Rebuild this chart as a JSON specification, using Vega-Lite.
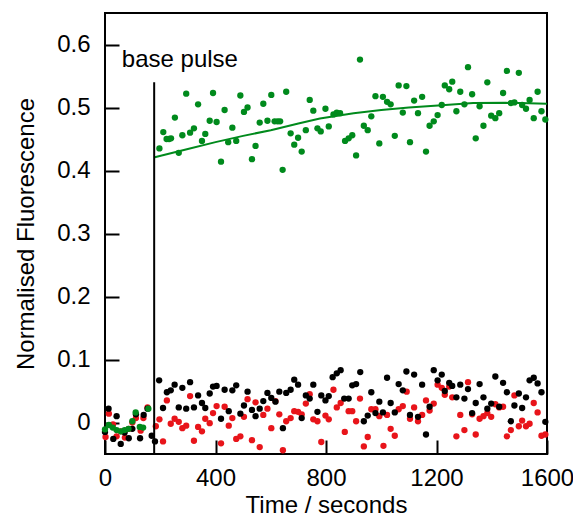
{
  "$schema": "https://vega.github.io/schema/vega-lite/v6.json",
  "width": 442,
  "height": 441,
  "autosize": {"type": "none"},
  "padding": {"left": 105, "top": 13, "right": 26, "bottom": 65},
  "background": "white",
  "config": {
    "view": {"stroke": "black", "strokeWidth": 2},
    "font": "Liberation Sans",
    "axis": {
      "domain": false,
      "grid": false,
      "ticks": true,
      "tickSize": -14,
      "tickWidth": 2,
      "tickColor": "black",
      "labelFontSize": 24,
      "labelColor": "black",
      "titleFontSize": 24,
      "titleFontWeight": "normal",
      "titleColor": "black",
      "labelFlush": false,
      "labelOverlap": false
    }
  },
  "datasets": {
    "pts": [
      {"t": 2, "v": -0.023, "s": "red"}, {"t": 14, "v": 0.014, "s": "red"}, {"t": 29, "v": -0.003, "s": "red"}, {"t": 42, "v": -0.022, "s": "red"}, {"t": 57, "v": -0.014, "s": "red"}, {"t": 72, "v": -0.024, "s": "red"}, {"t": 86, "v": -0.010, "s": "red"}, {"t": 99, "v": 0.000, "s": "red"}, {"t": 112, "v": 0.007, "s": "red"}, {"t": 129, "v": -0.013, "s": "red"}, {"t": 139, "v": 0.007, "s": "red"}, {"t": 154, "v": 0.024, "s": "red"},
      {"t": 184, "v": -0.006, "s": "red"}, {"t": 197, "v": 0.005, "s": "red"}, {"t": 210, "v": -0.030, "s": "red"}, {"t": 224, "v": 0.035, "s": "red"}, {"t": 238, "v": -0.002, "s": "red"}, {"t": 252, "v": 0.006, "s": "red"}, {"t": 267, "v": 0.001, "s": "red"}, {"t": 280, "v": -0.009, "s": "red"}, {"t": 294, "v": -0.005, "s": "red"}, {"t": 308, "v": 0.042, "s": "red"}, {"t": 322, "v": -0.029, "s": "red"}, {"t": 337, "v": -0.007, "s": "red"}, {"t": 351, "v": -0.014, "s": "red"}, {"t": 363, "v": 0.006, "s": "red"}, {"t": 379, "v": -0.001, "s": "red"}, {"t": 391, "v": 0.015, "s": "red"}, {"t": 404, "v": 0.026, "s": "red"}, {"t": 420, "v": -0.033, "s": "red"}, {"t": 433, "v": 0.025, "s": "red"}, {"t": 448, "v": -0.005, "s": "red"}, {"t": 461, "v": 0.007, "s": "red"}, {"t": 475, "v": -0.026, "s": "red"}, {"t": 490, "v": -0.022, "s": "red"}, {"t": 503, "v": 0.009, "s": "red"}, {"t": 516, "v": 0.037, "s": "red"}, {"t": 532, "v": -0.028, "s": "red"}, {"t": 545, "v": 0.032, "s": "red"}, {"t": 560, "v": -0.039, "s": "red"}, {"t": 573, "v": 0.012, "s": "red"}, {"t": 588, "v": 0.022, "s": "red"}, {"t": 602, "v": -0.009, "s": "red"}, {"t": 617, "v": 0.034, "s": "red"}, {"t": 631, "v": 0.013, "s": "red"}, {"t": 644, "v": -0.044, "s": "red"}, {"t": 656, "v": 0.002, "s": "red"}, {"t": 672, "v": 0.007, "s": "red"}, {"t": 685, "v": 0.018, "s": "red"}, {"t": 699, "v": 0.017, "s": "red"}, {"t": 712, "v": 0.013, "s": "red"}, {"t": 727, "v": 0.030, "s": "red"}, {"t": 741, "v": 0.045, "s": "red"}, {"t": 754, "v": 0.005, "s": "red"}, {"t": 769, "v": 0.002, "s": "red"}, {"t": 783, "v": -0.031, "s": "red"}, {"t": 798, "v": 0.011, "s": "red"}, {"t": 810, "v": 0.005, "s": "red"}, {"t": 827, "v": 0.052, "s": "red"}, {"t": 839, "v": 0.024, "s": "red"}, {"t": 853, "v": 0.031, "s": "red"}, {"t": 868, "v": -0.015, "s": "red"}, {"t": 882, "v": 0.018, "s": "red"}, {"t": 895, "v": 0.018, "s": "red"}, {"t": 909, "v": 0.002, "s": "red"}, {"t": 923, "v": 0.038, "s": "red"}, {"t": 937, "v": -0.038, "s": "red"}, {"t": 951, "v": -0.023, "s": "red"}, {"t": 964, "v": 0.021, "s": "red"}, {"t": 979, "v": 0.021, "s": "red"}, {"t": 993, "v": 0.010, "s": "red"}, {"t": 1008, "v": -0.037, "s": "red"}, {"t": 1021, "v": 0.012, "s": "red"}, {"t": 1034, "v": -0.010, "s": "red"}, {"t": 1049, "v": -0.021, "s": "red"}, {"t": 1063, "v": 0.021, "s": "red"}, {"t": 1078, "v": 0.026, "s": "red"}, {"t": 1092, "v": 0.049, "s": "red"}, {"t": 1104, "v": 0.006, "s": "red"}, {"t": 1119, "v": 0.024, "s": "red"}, {"t": 1133, "v": 0.002, "s": "red"}, {"t": 1148, "v": 0.012, "s": "red"}, {"t": 1162, "v": 0.035, "s": "red"}, {"t": 1175, "v": 0.019, "s": "red"}, {"t": 1190, "v": 0.030, "s": "red"}, {"t": 1204, "v": 0.060, "s": "red"}, {"t": 1219, "v": 0.055, "s": "red"}, {"t": 1230, "v": 0.044, "s": "red"}, {"t": 1246, "v": 0.057, "s": "red"}, {"t": 1257, "v": 0.040, "s": "red"}, {"t": 1272, "v": -0.022, "s": "red"}, {"t": 1286, "v": 0.012, "s": "red"}, {"t": 1301, "v": -0.012, "s": "red"}, {"t": 1314, "v": 0.064, "s": "red"}, {"t": 1329, "v": 0.013, "s": "red"}, {"t": 1342, "v": -0.019, "s": "red"}, {"t": 1356, "v": 0.006, "s": "red"}, {"t": 1370, "v": 0.010, "s": "red"}, {"t": 1384, "v": 0.015, "s": "red"}, {"t": 1398, "v": 0.009, "s": "red"}, {"t": 1413, "v": 0.029, "s": "red"}, {"t": 1427, "v": 0.024, "s": "red"}, {"t": 1441, "v": 0.025, "s": "red"}, {"t": 1455, "v": -0.022, "s": "red"}, {"t": 1469, "v": -0.012, "s": "red"}, {"t": 1482, "v": 0.043, "s": "red"}, {"t": 1498, "v": -0.006, "s": "red"}, {"t": 1510, "v": 0.003, "s": "red"}, {"t": 1524, "v": -0.006, "s": "red"}, {"t": 1537, "v": -0.002, "s": "red"}, {"t": 1552, "v": 0.031, "s": "red"}, {"t": 1566, "v": 0.016, "s": "red"}, {"t": 1580, "v": -0.021, "s": "red"}, {"t": 1594, "v": -0.019, "s": "red"},

      {"t": 0, "v": -0.015, "s": "black"}, {"t": 13, "v": 0.022, "s": "black"}, {"t": 30, "v": -0.026, "s": "black"}, {"t": 42, "v": 0.010, "s": "black"}, {"t": 57, "v": -0.034, "s": "black"}, {"t": 71, "v": -0.016, "s": "black"}, {"t": 86, "v": -0.025, "s": "black"}, {"t": 99, "v": -0.010, "s": "black"}, {"t": 112, "v": 0.013, "s": "black"}, {"t": 127, "v": -0.025, "s": "black"}, {"t": 140, "v": 0.012, "s": "black"}, {"t": 154, "v": 0.022, "s": "black"}, {"t": 169, "v": -0.021, "s": "black"}, {"t": 181, "v": -0.030, "s": "black"},
      {"t": 196, "v": 0.067, "s": "black"}, {"t": 210, "v": 0.023, "s": "black"}, {"t": 224, "v": 0.048, "s": "black"}, {"t": 238, "v": 0.051, "s": "black"}, {"t": 252, "v": 0.060, "s": "black"}, {"t": 267, "v": 0.024, "s": "black"}, {"t": 280, "v": 0.055, "s": "black"}, {"t": 294, "v": 0.022, "s": "black"}, {"t": 308, "v": 0.064, "s": "black"}, {"t": 322, "v": 0.024, "s": "black"}, {"t": 337, "v": 0.043, "s": "black"}, {"t": 351, "v": 0.031, "s": "black"}, {"t": 363, "v": 0.023, "s": "black"}, {"t": 379, "v": 0.046, "s": "black"}, {"t": 391, "v": 0.057, "s": "black"}, {"t": 404, "v": 0.058, "s": "black"}, {"t": 420, "v": 0.006, "s": "black"}, {"t": 433, "v": 0.052, "s": "black"}, {"t": 448, "v": 0.018, "s": "black"}, {"t": 461, "v": 0.051, "s": "black"}, {"t": 475, "v": 0.059, "s": "black"}, {"t": 490, "v": 0.014, "s": "black"}, {"t": 503, "v": 0.027, "s": "black"}, {"t": 516, "v": 0.049, "s": "black"}, {"t": 532, "v": 0.020, "s": "black"}, {"t": 545, "v": 0.010, "s": "black"}, {"t": 560, "v": 0.022, "s": "black"}, {"t": 573, "v": 0.034, "s": "black"}, {"t": 588, "v": 0.047, "s": "black"}, {"t": 602, "v": 0.039, "s": "black"}, {"t": 617, "v": 0.033, "s": "black"}, {"t": 631, "v": 0.049, "s": "black"}, {"t": 644, "v": -0.009, "s": "black"}, {"t": 656, "v": 0.047, "s": "black"}, {"t": 672, "v": 0.052, "s": "black"}, {"t": 685, "v": 0.068, "s": "black"}, {"t": 699, "v": 0.060, "s": "black"}, {"t": 712, "v": 0.007, "s": "black"}, {"t": 727, "v": 0.043, "s": "black"}, {"t": 741, "v": 0.038, "s": "black"}, {"t": 754, "v": 0.060, "s": "black"}, {"t": 769, "v": 0.017, "s": "black"}, {"t": 783, "v": 0.043, "s": "black"}, {"t": 798, "v": 0.035, "s": "black"}, {"t": 810, "v": 0.042, "s": "black"}, {"t": 824, "v": 0.072, "s": "black"}, {"t": 839, "v": 0.078, "s": "black"}, {"t": 853, "v": 0.083, "s": "black"}, {"t": 866, "v": 0.038, "s": "black"}, {"t": 882, "v": 0.038, "s": "black"}, {"t": 895, "v": 0.059, "s": "black"}, {"t": 909, "v": 0.061, "s": "black"}, {"t": 924, "v": 0.080, "s": "black"}, {"t": 937, "v": 0.002, "s": "black"}, {"t": 951, "v": 0.011, "s": "black"}, {"t": 964, "v": 0.048, "s": "black"}, {"t": 979, "v": 0.015, "s": "black"}, {"t": 993, "v": 0.033, "s": "black"}, {"t": 1006, "v": 0.016, "s": "black"}, {"t": 1021, "v": 0.071, "s": "black"}, {"t": 1034, "v": 0.031, "s": "black"}, {"t": 1049, "v": 0.016, "s": "black"}, {"t": 1063, "v": 0.061, "s": "black"}, {"t": 1078, "v": 0.051, "s": "black"}, {"t": 1091, "v": 0.081, "s": "black"}, {"t": 1104, "v": 0.012, "s": "black"}, {"t": 1119, "v": 0.076, "s": "black"}, {"t": 1133, "v": 0.009, "s": "black"}, {"t": 1148, "v": 0.060, "s": "black"}, {"t": 1162, "v": -0.019, "s": "black"}, {"t": 1175, "v": 0.025, "s": "black"}, {"t": 1190, "v": 0.083, "s": "black"}, {"t": 1204, "v": 0.067, "s": "black"}, {"t": 1219, "v": 0.076, "s": "black"}, {"t": 1230, "v": 0.050, "s": "black"}, {"t": 1246, "v": 0.063, "s": "black"}, {"t": 1257, "v": 0.058, "s": "black"}, {"t": 1272, "v": 0.040, "s": "black"}, {"t": 1286, "v": 0.060, "s": "black"}, {"t": 1301, "v": 0.038, "s": "black"}, {"t": 1314, "v": 0.053, "s": "black"}, {"t": 1329, "v": 0.015, "s": "black"}, {"t": 1342, "v": 0.031, "s": "black"}, {"t": 1356, "v": 0.061, "s": "black"}, {"t": 1370, "v": 0.040, "s": "black"}, {"t": 1384, "v": 0.022, "s": "black"}, {"t": 1398, "v": 0.030, "s": "black"}, {"t": 1413, "v": 0.073, "s": "black"}, {"t": 1427, "v": 0.025, "s": "black"}, {"t": 1441, "v": 0.063, "s": "black"}, {"t": 1455, "v": 0.048, "s": "black"}, {"t": 1469, "v": 0.002, "s": "black"}, {"t": 1482, "v": 0.027, "s": "black"}, {"t": 1498, "v": 0.046, "s": "black"}, {"t": 1510, "v": 0.023, "s": "black"}, {"t": 1524, "v": 0.040, "s": "black"}, {"t": 1537, "v": 0.067, "s": "black"}, {"t": 1552, "v": 0.071, "s": "black"}, {"t": 1566, "v": 0.062, "s": "black"}, {"t": 1580, "v": 0.048, "s": "black"}, {"t": 1594, "v": 0.001, "s": "black"},

      {"t": 0, "v": -0.011, "s": "green"}, {"t": 14, "v": -0.004, "s": "green"}, {"t": 28, "v": -0.008, "s": "green"}, {"t": 42, "v": -0.012, "s": "green"}, {"t": 57, "v": -0.014, "s": "green"}, {"t": 71, "v": -0.012, "s": "green"}, {"t": 85, "v": -0.010, "s": "green"}, {"t": 99, "v": 0.002, "s": "green"}, {"t": 111, "v": 0.016, "s": "green"}, {"t": 126, "v": -0.007, "s": "green"}, {"t": 138, "v": -0.008, "s": "green"}, {"t": 157, "v": 0.022, "s": "green"},
      {"t": 197, "v": 0.435, "s": "green"}, {"t": 211, "v": 0.461, "s": "green"}, {"t": 223, "v": 0.450, "s": "green"}, {"t": 232, "v": 0.450, "s": "green"}, {"t": 239, "v": 0.451, "s": "green"}, {"t": 253, "v": 0.484, "s": "green"}, {"t": 267, "v": 0.428, "s": "green"}, {"t": 280, "v": 0.456, "s": "green"}, {"t": 294, "v": 0.522, "s": "green"}, {"t": 308, "v": 0.460, "s": "green"}, {"t": 322, "v": 0.467, "s": "green"}, {"t": 337, "v": 0.505, "s": "green"}, {"t": 351, "v": 0.447, "s": "green"}, {"t": 363, "v": 0.458, "s": "green"}, {"t": 379, "v": 0.479, "s": "green"}, {"t": 391, "v": 0.523, "s": "green"}, {"t": 404, "v": 0.477, "s": "green"}, {"t": 420, "v": 0.414, "s": "green"}, {"t": 433, "v": 0.496, "s": "green"}, {"t": 446, "v": 0.445, "s": "green"}, {"t": 461, "v": 0.468, "s": "green"}, {"t": 475, "v": 0.447, "s": "green"}, {"t": 490, "v": 0.519, "s": "green"}, {"t": 503, "v": 0.493, "s": "green"}, {"t": 516, "v": 0.500, "s": "green"}, {"t": 532, "v": 0.418, "s": "green"}, {"t": 545, "v": 0.439, "s": "green"}, {"t": 560, "v": 0.476, "s": "green"}, {"t": 573, "v": 0.506, "s": "green"}, {"t": 588, "v": 0.479, "s": "green"}, {"t": 602, "v": 0.520, "s": "green"}, {"t": 614, "v": 0.478, "s": "green"}, {"t": 625, "v": 0.478, "s": "green"}, {"t": 634, "v": 0.478, "s": "green"}, {"t": 643, "v": 0.401, "s": "green"}, {"t": 656, "v": 0.525, "s": "green"}, {"t": 672, "v": 0.459, "s": "green"}, {"t": 685, "v": 0.441, "s": "green"}, {"t": 699, "v": 0.452, "s": "green"}, {"t": 712, "v": 0.430, "s": "green"}, {"t": 727, "v": 0.464, "s": "green"}, {"t": 741, "v": 0.512, "s": "green"}, {"t": 754, "v": 0.495, "s": "green"}, {"t": 769, "v": 0.467, "s": "green"}, {"t": 781, "v": 0.462, "s": "green"}, {"t": 798, "v": 0.498, "s": "green"}, {"t": 810, "v": 0.470, "s": "green"}, {"t": 827, "v": 0.489, "s": "green"}, {"t": 839, "v": 0.492, "s": "green"}, {"t": 851, "v": 0.491, "s": "green"}, {"t": 869, "v": 0.447, "s": "green"}, {"t": 882, "v": 0.451, "s": "green"}, {"t": 895, "v": 0.456, "s": "green"}, {"t": 909, "v": 0.424, "s": "green"}, {"t": 923, "v": 0.576, "s": "green"}, {"t": 937, "v": 0.471, "s": "green"}, {"t": 951, "v": 0.464, "s": "green"}, {"t": 964, "v": 0.486, "s": "green"}, {"t": 979, "v": 0.518, "s": "green"}, {"t": 993, "v": 0.443, "s": "green"}, {"t": 1006, "v": 0.517, "s": "green"}, {"t": 1021, "v": 0.509, "s": "green"}, {"t": 1034, "v": 0.505, "s": "green"}, {"t": 1049, "v": 0.455, "s": "green"}, {"t": 1063, "v": 0.535, "s": "green"}, {"t": 1078, "v": 0.492, "s": "green"}, {"t": 1091, "v": 0.534, "s": "green"}, {"t": 1104, "v": 0.445, "s": "green"}, {"t": 1119, "v": 0.511, "s": "green"}, {"t": 1133, "v": 0.491, "s": "green"}, {"t": 1148, "v": 0.517, "s": "green"}, {"t": 1162, "v": 0.430, "s": "green"}, {"t": 1175, "v": 0.471, "s": "green"}, {"t": 1190, "v": 0.478, "s": "green"}, {"t": 1204, "v": 0.488, "s": "green"}, {"t": 1219, "v": 0.504, "s": "green"}, {"t": 1230, "v": 0.535, "s": "green"}, {"t": 1246, "v": 0.529, "s": "green"}, {"t": 1257, "v": 0.541, "s": "green"}, {"t": 1272, "v": 0.494, "s": "green"}, {"t": 1286, "v": 0.525, "s": "green"}, {"t": 1301, "v": 0.505, "s": "green"}, {"t": 1314, "v": 0.564, "s": "green"}, {"t": 1329, "v": 0.521, "s": "green"}, {"t": 1342, "v": 0.451, "s": "green"}, {"t": 1356, "v": 0.502, "s": "green"}, {"t": 1370, "v": 0.471, "s": "green"}, {"t": 1384, "v": 0.540, "s": "green"}, {"t": 1398, "v": 0.487, "s": "green"}, {"t": 1413, "v": 0.483, "s": "green"}, {"t": 1427, "v": 0.491, "s": "green"}, {"t": 1441, "v": 0.523, "s": "green"}, {"t": 1455, "v": 0.558, "s": "green"}, {"t": 1469, "v": 0.507, "s": "green"}, {"t": 1482, "v": 0.508, "s": "green"}, {"t": 1498, "v": 0.555, "s": "green"}, {"t": 1510, "v": 0.504, "s": "green"}, {"t": 1524, "v": 0.498, "s": "green"}, {"t": 1537, "v": 0.512, "s": "green"}, {"t": 1552, "v": 0.483, "s": "green"}, {"t": 1566, "v": 0.525, "s": "green"}, {"t": 1580, "v": 0.494, "s": "green"}, {"t": 1594, "v": 0.481, "s": "green"}
    ],
    "fit": [
      {"t": 180, "v": 0.421}, {"t": 300, "v": 0.434}, {"t": 400, "v": 0.445}, {"t": 500, "v": 0.455}, {"t": 600, "v": 0.464}, {"t": 700, "v": 0.4745}, {"t": 778, "v": 0.4825}, {"t": 900, "v": 0.491}, {"t": 1000, "v": 0.496}, {"t": 1100, "v": 0.500}, {"t": 1219, "v": 0.5037}, {"t": 1333, "v": 0.507}, {"t": 1450, "v": 0.5075}, {"t": 1500, "v": 0.507}, {"t": 1600, "v": 0.506}
    ],
    "pulse": [{"t": 178, "v": -0.05, "v2": 0.54}],
    "label": [{"t": 61, "v": 0.5635, "text": "base pulse"}]
  },
  "encoding": {
    "x": {
      "field": "t", "type": "quantitative",
      "scale": {"domain": [0, 1600], "nice": false, "zero": false},
      "axis": {"values": [0, 400, 800, 1200, 1600], "format": "d", "title": "Time / seconds", "labelPadding": 26, "titlePadding": 3}
    },
    "y": {
      "field": "v", "type": "quantitative",
      "scale": {"domain": [-0.05, 0.65], "nice": false, "zero": false},
      "axis": {"values": [0, 0.1, 0.2, 0.3, 0.4, 0.5, 0.6], "labelExpr": "datum.value == 0 ? '0' : format(datum.value, '.1f')", "title": "Normalised Fluorescence", "labelPadding": 29, "titlePadding": 18}
    }
  },
  "layer": [
    {
      "data": {"name": "pts"},
      "mark": {"type": "circle", "size": 40, "opacity": 1},
      "encoding": {
        "color": {"field": "s", "type": "nominal", "scale": {"domain": ["red", "black", "green"], "range": ["#e8141a", "#000000", "#008a1c"]}, "legend": null}
      }
    },
    {
      "data": {"name": "fit"},
      "mark": {"type": "line", "color": "#008a1c", "strokeWidth": 2},
      "encoding": {}
    },
    {
      "data": {"name": "pulse"},
      "mark": {"type": "rule", "color": "black", "strokeWidth": 2},
      "encoding": {"y2": {"field": "v2"}}
    },
    {
      "data": {"name": "label"},
      "mark": {"type": "text", "align": "left", "baseline": "alphabetic", "fontSize": 24, "color": "black"},
      "encoding": {"text": {"field": "text"}}
    }
  ]
}
